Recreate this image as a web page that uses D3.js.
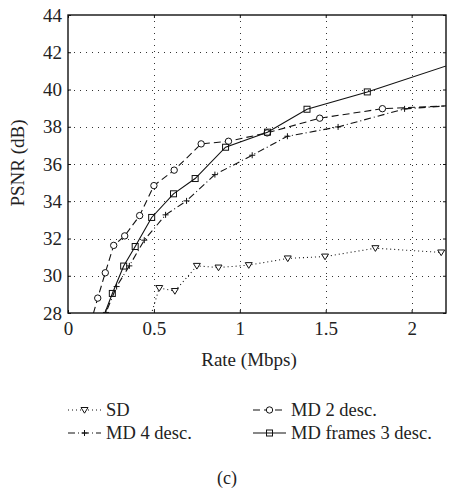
<!DOCTYPE html>
<html>
<head>
<meta charset="utf-8">
<script src="https://cdn.jsdelivr.net/npm/d3@7"></script>
<style>
  html, body { margin: 0; padding: 0; background: #fff; }
  svg text { font-family: "Liberation Serif", "Times New Roman", Times, "DejaVu Serif", serif; fill: #222; }
</style>
</head>
<body>
<svg id="chart" width="464" height="489"></svg>
<script>
// Rate (Mbps) / PSNR (dB) samples for each coding scheme.
// Points outside the axis range continue the curves to the frame and are clipped.
const sdRate   = [0.47, 0.531, 0.622, 0.75, 0.876, 1.052, 1.279, 1.496, 1.789, 2.172];
const sdPsnr   = [27.5, 29.34, 29.18, 30.53, 30.44, 30.57, 30.93, 31.03, 31.48, 31.25];

const md2Rate  = [0.13, 0.173, 0.217, 0.266, 0.33, 0.417, 0.5, 0.618, 0.775, 0.934, 1.159, 1.465, 1.83, 2.4];
const md2Psnr  = [27.4, 28.8, 30.16, 31.63, 32.14, 33.23, 34.84, 35.67, 37.08, 37.22, 37.67, 38.46, 38.97, 39.2];

const md4Rate  = [0.2, 0.221, 0.283, 0.357, 0.444, 0.568, 0.69, 0.855, 1.072, 1.277, 1.572, 1.959, 2.4];
const md4Psnr  = [27.5, 28.03, 29.42, 30.53, 31.91, 33.27, 34.02, 35.43, 36.47, 37.49, 37.99, 38.96, 39.25];

const mdfRate  = [0.19, 0.258, 0.324, 0.391, 0.487, 0.614, 0.74, 0.917, 1.161, 1.391, 1.742, 2.4];
const mdfPsnr  = [27.4, 29.05, 30.52, 31.57, 33.13, 34.4, 35.22, 36.9, 37.71, 38.94, 39.87, 41.87];

const xTicks = [0, 0.5, 1, 1.5, 2];
const yTicks = [28, 30, 32, 34, 36, 38, 40, 42, 44];

const seriesNames = ["SD", "MD 2 desc.", "MD 4 desc.", "MD frames 3 desc."];

const svg = d3.select("#chart");
const plot = { left: 68, right: 446, top: 15, bottom: 313 };

const x = d3.scaleLinear().domain([0, 2.2]).range([plot.left, plot.right]);
const y = d3.scaleLinear().domain([28, 44]).range([plot.bottom, plot.top]);

const zip = (xs, ys) => xs.map((v, i) => [v, ys[i]]);
const series = [
  { name: seriesNames[0], pts: zip(sdRate, sdPsnr),  dash: "1,3",       marker: "tri" },
  { name: seriesNames[1], pts: zip(md2Rate, md2Psnr), dash: "7,4",       marker: "circle" },
  { name: seriesNames[2], pts: zip(md4Rate, md4Psnr), dash: "7,3,1,3",   marker: "plus" },
  { name: seriesNames[3], pts: zip(mdfRate, mdfPsnr), dash: null,        marker: "square" }
];

svg.append("defs").append("clipPath").attr("id", "plotClip")
  .append("rect")
  .attr("x", plot.left).attr("y", plot.top)
  .attr("width", plot.right - plot.left).attr("height", plot.bottom - plot.top);

// dotted grid
const grid = svg.append("g").attr("stroke", "#333").attr("stroke-width", 1)
  .attr("stroke-dasharray", "1,5").attr("shape-rendering", "crispEdges");
grid.selectAll(".gx").data(xTicks.filter(t => t > 0)).join("line")
  .attr("x1", d => Math.round(x(d)) + 0.5).attr("x2", d => Math.round(x(d)) + 0.5)
  .attr("y1", plot.top).attr("y2", plot.bottom);
grid.selectAll(".gy").data(yTicks.filter(t => t > 28 && t < 44)).join("line")
  .attr("y1", d => Math.round(y(d)) + 0.5).attr("y2", d => Math.round(y(d)) + 0.5)
  .attr("x1", plot.left).attr("x2", plot.right);

// axes with inward ticks on all four sides
const tickLen = 3;
const axB = svg.append("g").attr("transform", `translate(0,${plot.bottom})`)
  .call(d3.axisBottom(x).tickValues(xTicks).tickSize(-tickLen).tickPadding(9).tickFormat(d3.format("")));
const axT = svg.append("g").attr("transform", `translate(0,${plot.top})`)
  .call(d3.axisTop(x).tickValues(xTicks).tickSize(-tickLen).tickFormat(""));
const axL = svg.append("g").attr("transform", `translate(${plot.left},0)`)
  .call(d3.axisLeft(y).tickValues(yTicks).tickSize(-tickLen).tickPadding(6));
const axR = svg.append("g").attr("transform", `translate(${plot.right},0)`)
  .call(d3.axisRight(y).tickValues(yTicks).tickSize(-tickLen).tickFormat(""));
[axB, axT, axL, axR].forEach(a => {
  a.attr("font-family", null).attr("font-size", null);
  a.select(".domain").remove();
  a.selectAll("line").attr("stroke", "#111");
  a.selectAll("text").attr("font-size", 19).attr("fill", "#333");
});

// frame
svg.append("rect")
  .attr("x", plot.left).attr("y", plot.top)
  .attr("width", plot.right - plot.left).attr("height", plot.bottom - plot.top)
  .attr("fill", "none").attr("stroke", "#111").attr("stroke-width", 1.4);

// marker drawing
function drawMarker(g, type, cx, cy) {
  const s = g.append("g").attr("transform", `translate(${cx},${cy})`)
    .attr("fill", "none").attr("stroke", "#111").attr("stroke-width", 1);
  if (type === "circle") s.append("circle").attr("r", 3.2).attr("fill", "#fff");
  if (type === "square") s.append("rect").attr("x", -3).attr("y", -3).attr("width", 6).attr("height", 6);
  if (type === "tri") s.append("path").attr("d", "M-3.5,-2.5L3.5,-2.5L0,3.2Z").attr("fill", "#fff");
  if (type === "plus") s.append("path").attr("d", "M-3,0H3M0,-3V3");
}

const line = d3.line().x(d => x(d[0])).y(d => y(d[1]));
const curves = svg.append("g").attr("clip-path", "url(#plotClip)");
series.forEach(s => {
  curves.append("path").datum(s.pts).attr("d", line)
    .attr("fill", "none").attr("stroke", "#111").attr("stroke-width", 1.1)
    .attr("stroke-dasharray", s.dash);
  s.pts.filter(p => p[0] >= 0 && p[0] <= 2.2 && p[1] >= 28 && p[1] <= 44)
    .forEach(p => drawMarker(curves, s.marker, x(p[0]), y(p[1])));
});

// axis titles
svg.append("text").attr("x", 249).attr("y", 366).attr("text-anchor", "middle")
  .attr("font-size", 19).text("Rate (Mbps)");
svg.append("text").attr("transform", "translate(24,163) rotate(-90)").attr("text-anchor", "middle")
  .attr("font-size", 19).text("PSNR (dB)");

// legend
const legendPos = [
  { lx: 68,  ly: 410 }, { lx: 253, ly: 410 },
  { lx: 68,  ly: 433 }, { lx: 253, ly: 433 }
];
series.forEach((s, i) => {
  const p = legendPos[i];
  const g = svg.append("g");
  g.append("line").attr("x1", p.lx).attr("x2", p.lx + 33).attr("y1", p.ly).attr("y2", p.ly)
    .attr("stroke", "#111").attr("stroke-width", 1.1).attr("stroke-dasharray", s.dash);
  drawMarker(g, s.marker, p.lx + 16.5, p.ly);
  g.append("text").attr("x", p.lx + 38).attr("y", p.ly + 6).attr("font-size", 18.5).text(s.name);
});

svg.append("text").attr("x", 227).attr("y", 484).attr("text-anchor", "middle")
  .attr("font-size", 18).text("(c)");
</script>
</body>
</html>
